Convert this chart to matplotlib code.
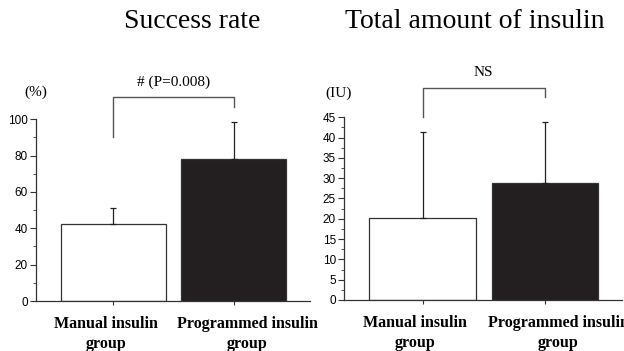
import numpy as np
import matplotlib.pyplot as plt
from matplotlib.ticker import FixedLocator

# data
groups = ["Manual insulin\ngroup", "Programmed insulin\ngroup"]
success_mean = [42.4, 78.0]
success_sd = [8.8, 20.3]
insulin_mean = [20.2, 28.9]
insulin_sd = [21.2, 15.0]

SERIF = "Liberation Serif"
SANS = "Liberation Sans"
EDGE = "#333333"
BRACKET = "#555555"

fig = plt.figure(figsize=(6.24, 3.51), dpi=100, facecolor="white")
ax1 = fig.add_axes([36 / 624, 50 / 351, 274 / 624, 241 / 351])
ax2 = fig.add_axes([344.3 / 624, 51 / 351, 277.7 / 624, 240 / 351])


def draw_panel(ax, means, sds, ymax_axis, ymax_data, major, unit, unit_pos,
               bracket, label_text, title, title_x):
    x = np.arange(len(means))
    ax.bar(x, means, width=0.87, color=["white", "#231f20"],
           edgecolor=EDGE, linewidth=0.9, zorder=2)
    ax.errorbar(x, means, yerr=[np.zeros(len(sds)), sds], fmt="none",
                ecolor="#222222", elinewidth=0.9, capsize=2, capthick=0.9,
                zorder=3)
    ax.set_xlim(-0.64, 1.63)
    ax.set_ylim(0, ymax_axis)
    ax.set_xticks(x)
    ax.set_xticklabels([])
    ax.tick_params(axis="x", length=3, width=0.8, color=EDGE, direction="out")
    ax.set_yticks(np.arange(0, ymax_data + 0.1, major))
    ax.yaxis.set_minor_locator(
        FixedLocator(np.arange(major / 2, ymax_data, major)))
    ax.tick_params(axis="y", which="major", length=4, width=0.8, color=EDGE,
                   labelsize=8.5, pad=2)
    ax.tick_params(axis="y", which="minor", length=2, width=0.6, color=EDGE)
    for lab in ax.get_yticklabels():
        lab.set_fontfamily(SANS)
    ax.spines["top"].set_visible(False)
    ax.spines["right"].set_visible(False)
    ax.spines["left"].set_bounds(0, ymax_data)
    for s in ("left", "bottom"):
        ax.spines[s].set_color(EDGE)
        ax.spines[s].set_linewidth(0.9)

    # significance bracket
    top, left_end, right_end = bracket
    ax.plot([0, 0, 1, 1], [left_end, top, top, right_end], color=BRACKET,
            linewidth=1.0, clip_on=False)
    ax.text(0.5, top + (ymax_axis * 0.065), label_text, ha="center",
            va="center", fontsize=11, family=SERIF, clip_on=False)

    # unit label
    ax.text(unit_pos[0], unit_pos[1], unit, transform=ax.get_yaxis_transform(),
            ha="center", va="center", fontsize=11, family=SERIF)

    # group labels under bars
    for xi, name, dx in zip(x, groups, [-0.06, 0.11]):
        ax.annotate(name, xy=(xi + dx, 0), xycoords=("data", "axes fraction"),
                    xytext=(0, -11), textcoords="offset points", ha="center",
                    va="top", fontsize=11.5, fontweight="bold", family=SERIF,
                    linespacing=1.35, annotation_clip=False)

    fig.text(title_x / 624, 1 - 22 / 351, title, ha="center", va="center",
             fontsize=20, family=SERIF)


draw_panel(ax1, success_mean, success_sd, 132.6, 100, 20, "(%)", (0.0, 115),
           (112, 90, 106.6), "# (P=0.008)", "Success rate", 192)
draw_panel(ax2, insulin_mean, insulin_sd, 59.1, 45, 5, "(IU)", (-0.02, 51),
           (52.1, 45, 49.9), "NS", "Total amount of insulin", 475)

fig.savefig("out.png", dpi=100, facecolor="white")
